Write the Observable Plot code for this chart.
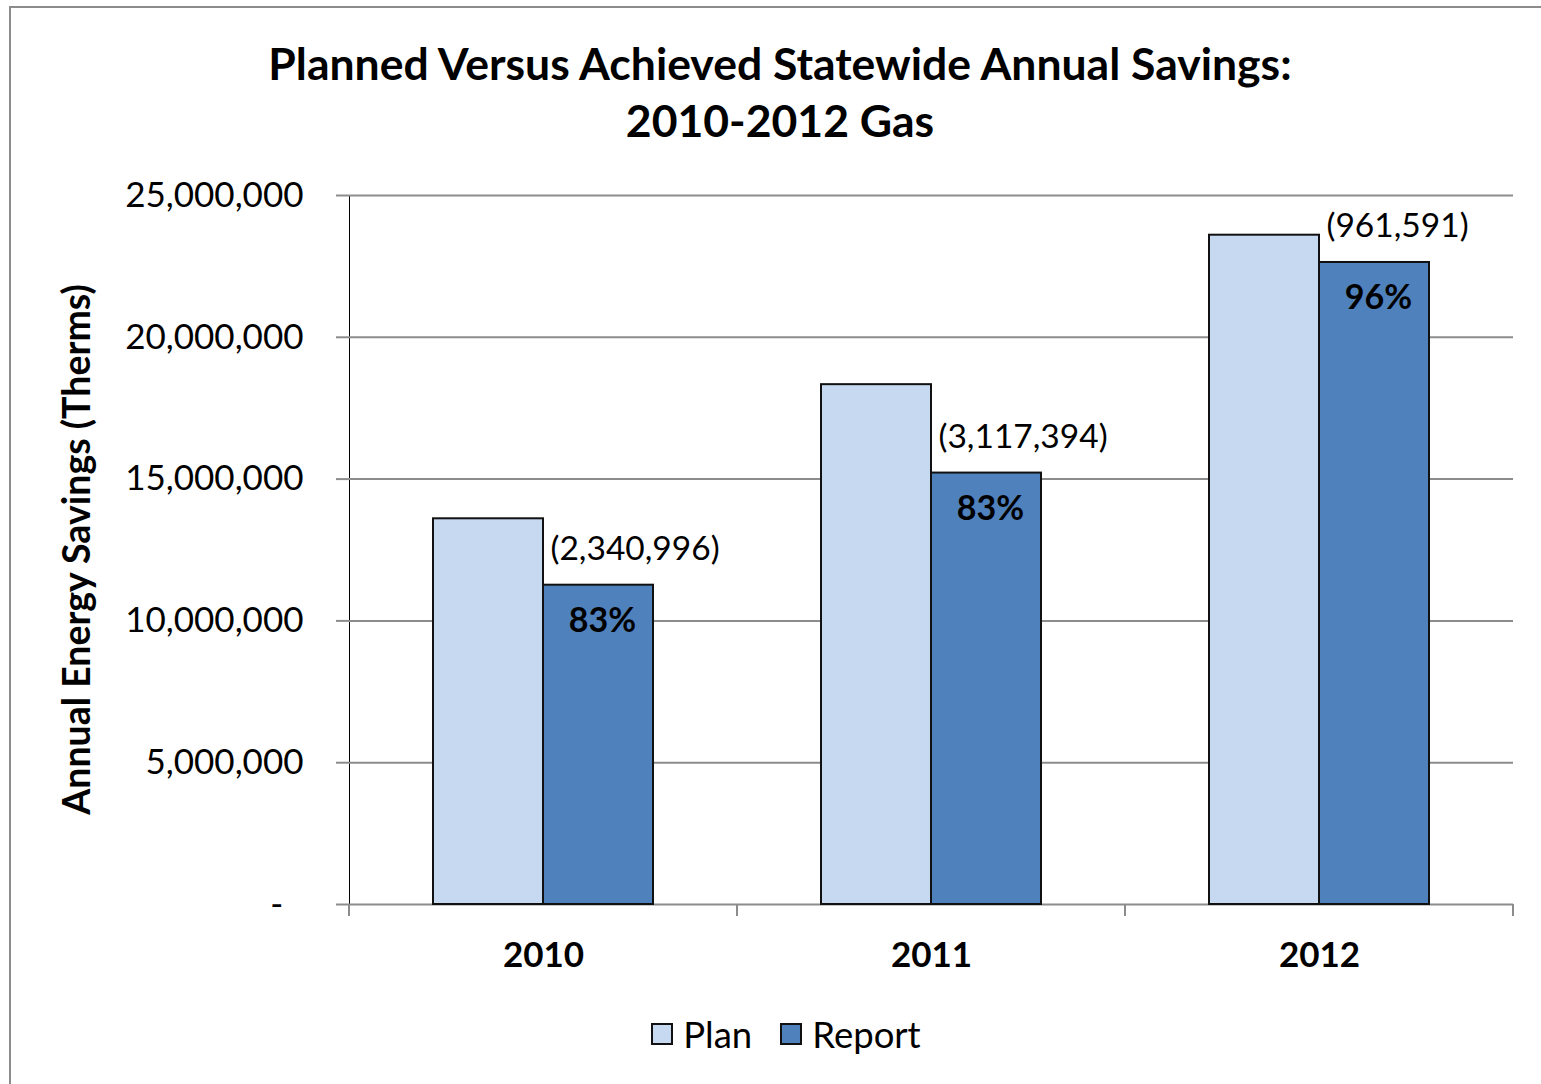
<!DOCTYPE html>
<html>
<head>
<meta charset="utf-8">
<script src="https://cdn.jsdelivr.net/npm/d3@7"></script>
<script src="https://cdn.jsdelivr.net/npm/@observablehq/plot@0.6"></script>
<style>
  body { margin: 0; background: #fff; font-family: Lato, "Open Sans", sans-serif; color: #000; overflow: hidden; }
  #frame { position: absolute; left: 9px; top: 6px; width: 1532px; height: 1078px; border-left: 2px solid #8c8c8c; border-top: 2px solid #8c8c8c; box-sizing: border-box; }
  #title { position: absolute; left: 60px; width: 1440px; top: 34px; text-align: center; font-weight: bold; font-size: 44.5px; line-height: 57px; }
  #chart { position: absolute; left: 12px; top: 165px; }
  #legend { position: absolute; left: 60px; width: 1452px; top: 1010px; height: 48px; display: flex; justify-content: center; align-items: center; font-size: 36.5px; }
  #legend .item { display: flex; align-items: center; margin: 0 14px; }
  #legend .sw { width: 18px; height: 18px; border: 2px solid #111; margin-right: 10px; }
  #chart svg text { font-family: Lato, "Open Sans", sans-serif; }
  #chart svg [aria-label^="fx-axis"] text { font-weight: bold; font-size: 35px; }
  #chart svg [aria-label^="y-axis"] text { font-size: 35px; }
  #chart svg [aria-label^="y-axis"] path, #chart svg [aria-label^="y-axis"] line { stroke: #8c8c8c; stroke-width: 2px; }
</style>
</head>
<body>
<div id="frame"></div>
<div id="title">Planned Versus Achieved Statewide Annual Savings:<br>2010-2012 Gas</div>
<div id="chart"></div>
<div id="legend"></div>
<script>
// ---- data ----
const years = ["2010", "2011", "2012"];
const seriesNames = ["Plan", "Report"];
const planValues = [13600000, 18330000, 23600000];
const reportValues = [11259004, 15212606, 22638409];
const gapLabels = ["(2,340,996)", "(3,117,394)", "(961,591)"];
const pctLabels = ["83%", "83%", "96%"];
const yTicks = [0, 5000000, 10000000, 15000000, 20000000, 25000000];
const seriesColors = ["#c6d9f1", "#4f81bd"];

// ---- build table ----
const rows = [];
years.forEach((yr, i) => {
  rows.push({year: yr, series: "Plan", value: planValues[i], gap: gapLabels[i], pct: pctLabels[i]});
  rows.push({year: yr, series: "Report", value: reportValues[i], gap: gapLabels[i], pct: pctLabels[i]});
});

const W = 1529, H = 809, mL = 336, mR = 27, mT = 30, mB = 70;
const fmt = d3.format(",");

const plot = Plot.plot({
  width: W, height: H,
  marginLeft: mL, marginRight: mR, marginTop: mT, marginBottom: mB,
  style: {fontFamily: "Lato, 'Open Sans', sans-serif", fontSize: "34px", color: "#000", background: "transparent"},
  facet: {data: rows, x: "year"},
  fx: {domain: years, padding: 0, paddingInner: 0, paddingOuter: 0, tickSize: 0, tickPadding: 38, label: null},
  x: {domain: seriesNames, paddingInner: 0, paddingOuter: 0.752, axis: null},
  y: {domain: [0, 25000000], ticks: yTicks, tickSize: 13, tickPadding: 33, line: true, label: null,
      tickFormat: d => d === 0 ? "-\u2007" : fmt(d)},
  color: {domain: seriesNames, range: seriesColors},
  marks: [
    Plot.ruleY(yTicks, {stroke: "#8c8c8c", strokeWidth: 2}),
    Plot.barY(rows, {x: "series", y: "value", fill: "series", stroke: "#111", strokeWidth: 2}),
    Plot.text(rows, {filter: d => d.series === "Report", x: "series", y: "value", text: "gap",
      textAnchor: "start", dx: -48, dy: -36, fontSize: 33.5}),
    Plot.text(rows, {filter: d => d.series === "Report", x: "series", y: "value", text: "pct",
      dx: 4, dy: 36, fontSize: 34, fontWeight: "bold"})
  ]
});

// year boundary ticks on the category axis, computed from the fx scale
const svg = d3.select(plot.tagName === "svg" ? plot : plot.querySelector("svg"));
const fx = plot.scale("fx");
const y = plot.scale("y");
const y0 = y.apply(0);
const bounds = [];
years.forEach(v => { bounds.push(fx.apply(v)); });
bounds.push(fx.apply(years[years.length - 1]) + fx.bandwidth);
const g = svg.append("g").attr("stroke", "#8c8c8c").attr("stroke-width", 2);
bounds.forEach(bx => {
  g.append("line").attr("x1", bx).attr("x2", bx).attr("y1", y0).attr("y2", y0 + 12);
});
// y axis title
svg.append("text")
  .attr("transform", `translate(78, ${(mT + H - mB) / 2}) rotate(-90)`)
  .attr("text-anchor", "middle")
  .attr("font-weight", "bold")
  .attr("font-size", 37.5)
  .attr("fill", "#000")
  .text("Annual Energy Savings (Therms)");

document.getElementById("chart").appendChild(plot);

// legend
const legend = d3.select("#legend");
seriesNames.forEach((s, i) => {
  const it = legend.append("div").attr("class", "item");
  it.append("div").attr("class", "sw").style("background", seriesColors[i]);
  it.append("span").text(s);
});
</script>
</body>
</html>
